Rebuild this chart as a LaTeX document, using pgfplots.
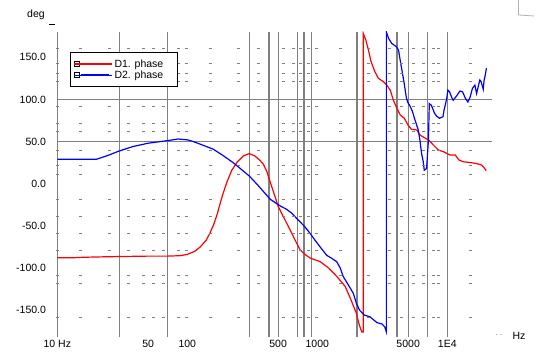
\documentclass[border=0pt]{standalone}
\usepackage{fontspec}
\setmainfont{Liberation Sans}
\usepackage{pgfplots}
\pgfplotsset{compat=1.18}
\definecolor{gridgray}{RGB}{128,128,128}
\newcommand\dotrow[1]{\addplot[only marks, mark=-, mark size=1.5pt, color=gridgray, forget plot, mark options={line width=0.8pt, solid}] coordinates {(10,#1)(15,#1)(25.1,#1)(35.1,#1)(45.9,#1)(54.8,#1)(65.3,#1)(85.3,#1)(98.9,#1)(149.6,#1)(246.6,#1)(351.8,#1)(547,#1)(653,#1)(744,#1)(853,#1)(989,#1)(1496,#1)(2466,#1)(3622,#1)(4456,#1)(5471,#1)(6532,#1)(7801,#1)(8525,#1)(14960,#1)};}
\begin{document}
\begin{tikzpicture}
\useasboundingbox (0pt,0pt) rectangle (537pt,362pt);
\begin{axis}[
  at={(57.3pt,25pt)}, anchor=south west, scale only axis,
  width=434.4pt, height=305pt,
  xmode=log, xmin=10, xmax=21960, ymin=-182, ymax=180,
  axis line style={draw=none},
  xtick={10,50,100,500,1000,5000,10000},
  xticklabels={10 Hz,50,100,500,1000,5000,1E4},
  minor xtick={},
  ytick={-150,-100,-50,0,50,100,150},
  yticklabels={-150.0,-100.0,-50.0,0.0,50.0,100.0,150.0},
  tick style={draw=none},
  ticklabel style={font=\fontsize{10.5}{12}\selectfont},
  yticklabel style={xshift=-7.8pt},
  extra x ticks={10,30,70,300,425,500,700,790,900,2020,4100,5000,7000,10000},
  extra x tick labels={},
  extra x tick style={grid=major, major grid style={gridgray, line width=1.1pt}, tick style={draw=none}},
  extra y ticks={50,100},
  extra y tick labels={},
  extra y tick style={grid=major, major grid style={gridgray, line width=1.1pt}, tick style={draw=none}},
  legend style={at={(rel axis cs:0.029,0.934)}, anchor=north west, draw=black, line width=0.8pt, fill=white,
    font=\fontsize{10.5}{12}\selectfont, inner xsep=3pt, inner ysep=5pt, row sep=-2pt, cells={anchor=west}},
  legend image code/.code={\draw[black, solid, line width=0.5pt, fill=white] (0pt,-2.5pt) rectangle (5pt,2.5pt); \draw[#1, line width=1.4pt] (7pt,0pt) -- (35pt,0pt); \path (0pt,0pt) -- (38pt,0pt);},
]
\dotrow{160.7}\dotrow{142.9}\dotrow{131.0}\dotrow{121.1}
\dotrow{91.4}\dotrow{71.7}\dotrow{61.7}
\dotrow{40.0}\dotrow{21.4}\dotrow{11.5}
\dotrow{-18.5}\dotrow{-38.7}\dotrow{-58.9}\dotrow{-79.0}
\dotrow{-108.7}\dotrow{-118.2}\dotrow{-158.2}

\addplot[red, line width=1.2pt] coordinates {
(10,-88)(13,-88)(15,-87.5)(20,-87)(30,-86.5)(50,-86)(70,-86)(88,-85.5)(100,-84)(115,-80)(126,-75)(140,-67)(150,-58)(160,-48)(170,-36)(180,-22)(189,-11)(203,3)(220,16)(243,26)(270,33)(300,35.7)(330,33)(360,28)(385,23)(410,14)(434,2)(470,-14)(500,-27)(560,-42)(618,-55)(680,-68)(740,-79)(820,-85)(890,-88.6)(1050,-92.5)(1220,-100)(1410,-110)(1640,-122)(1840,-140)(2000,-154)(2090,-166)(2150,-172)(2200,-176)(2260,-176)
(2260,178)(2280,176.5)(2360,170.6)(2470,159)(2590,145)(2770,133)(2950,125)(3230,121)(3420,117)(3640,111)(3850,99)(4090,89.5)(4350,81.5)(4670,77.6)(4980,69.7)(5300,64.5)(5830,63.7)(6150,57.8)(6590,55)(7160,51.9)(7800,46)(8525,40)(9300,38)(10500,34)(11500,34)(12300,28)(13300,26)(15000,25)(16700,24)(18400,22)(19400,18)(19900,15.4)
};
\addlegendentry{\makebox[58pt][l]{D1. phase}}
\addplot[blue, line width=1.2pt] coordinates {
(10,29)(20,29)(21,30)(25,34)(29,38)(38,44)(50,48)(70,51)(85,53)(100,52)(111,50)(130,46)(158,41)(190,33)(225,25)(260,17)(300,9)(350,-2)(434,-18.5)(519,-26.5)(580,-30.4)(635,-35)(712,-43)(800,-51)(880,-59)(959,-67)(1050,-75)(1180,-85)(1290,-88.6)(1410,-92.6)(1500,-100)(1580,-110)(1730,-120)(1890,-130)(2000,-142)(2110,-150)(2300,-156)(2540,-158)(2880,-165)(3140,-166.5)(3300,-170)(3400,-176)
(3400,180)(3530,172.6)(3730,166.6)(4050,162.6)(4210,158.7)(4380,143)(4520,131)(4660,119)(4830,103)(4950,97)(5190,91.4)(5400,85.5)(5540,79.5)(5750,71.7)(5980,63.7)(6150,52)(6340,36)(6530,26)(6650,16)(6930,18)(7160,52)(7270,95)(7540,93)(7800,87.5)(7970,83.6)(8300,80)(8700,77.6)(9260,79.5)(9450,87.5)(9900,101)(10100,111)(10400,109)(10900,101)(11100,99)(11900,105)(12500,110)(13100,109)(13800,101)(14400,97)(15000,103)(15600,113)(16300,117)(16800,107)(17400,117)(17800,123)(18200,121)(18900,112)(19200,123)(19600,129)(20000,137)
};
\addlegendentry{\makebox[58pt][l]{D2. phase\rule[-6pt]{0pt}{1pt}}}
\end{axis}
\node[font=\fontsize{10.5}{12}\selectfont] at (36pt,347pt) {deg};
\draw[line width=0.6pt] (49pt,338pt) -- (55pt,338pt);
\node[font=\fontsize{10.5}{12}\selectfont] at (519pt,26pt) {Hz};
\node[font=\fontsize{6}{7}\selectfont] at (499pt,27pt) {. .};
\draw[gray!60, line width=0.8pt] (518.5pt,362pt) -- (518.5pt,347pt) -- (534pt,346pt);
\end{tikzpicture}
\end{document}
